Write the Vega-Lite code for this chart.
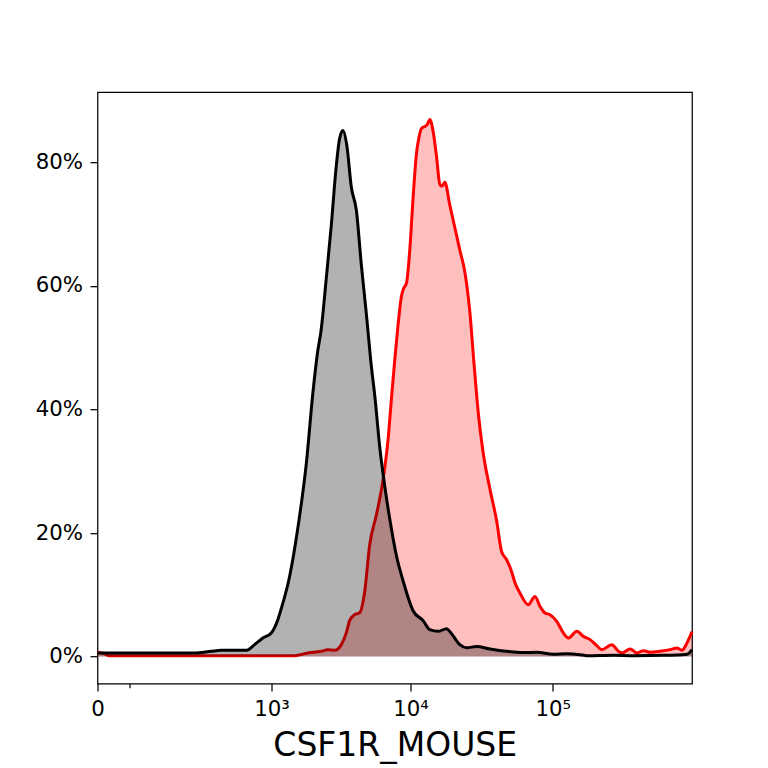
{
  "$schema": "https://vega.github.io/schema/vega-lite/v6.json",
  "autosize": "none",
  "width": 594.5,
  "height": 591.3,
  "padding": {"left": 97.5, "top": 92.2, "right": 76, "bottom": 84.5},
  "background": "white",
  "config": {
    "font": "DejaVu Sans",
    "view": {"stroke": "black", "strokeWidth": 1.25}
  },
  "data": {
    "values": [
      {"series": "control", "x": 0, "pct": 0.0060},
      {"series": "control", "x": 84, "pct": 0.0060},
      {"series": "control", "x": 242, "pct": 0.0060},
      {"series": "control", "x": 337, "pct": 0.0086},
      {"series": "control", "x": 408, "pct": 0.0102},
      {"series": "control", "x": 643, "pct": 0.0102},
      {"series": "control", "x": 745, "pct": 0.0194},
      {"series": "control", "x": 861, "pct": 0.0302},
      {"series": "control", "x": 996, "pct": 0.0383},
      {"series": "control", "x": 1115, "pct": 0.0598},
      {"series": "control", "x": 1182, "pct": 0.0776},
      {"series": "control", "x": 1361, "pct": 0.1293},
      {"series": "control", "x": 1566, "pct": 0.2085},
      {"series": "control", "x": 1803, "pct": 0.3119},
      {"series": "control", "x": 2013, "pct": 0.4267},
      {"series": "control", "x": 2178, "pct": 0.4929},
      {"series": "control", "x": 2309, "pct": 0.5285},
      {"series": "control", "x": 2517, "pct": 0.6129},
      {"series": "control", "x": 2734, "pct": 0.6986},
      {"series": "control", "x": 2970, "pct": 0.7952},
      {"series": "control", "x": 3137, "pct": 0.8388},
      {"series": "control", "x": 3312, "pct": 0.8517},
      {"series": "control", "x": 3530, "pct": 0.8275},
      {"series": "control", "x": 3803, "pct": 0.7596},
      {"series": "control", "x": 4129, "pct": 0.7224},
      {"series": "control", "x": 4483, "pct": 0.6335},
      {"series": "control", "x": 4867, "pct": 0.5543},
      {"series": "control", "x": 5223, "pct": 0.4800},
      {"series": "control", "x": 5623, "pct": 0.4154},
      {"series": "control", "x": 6052, "pct": 0.3394},
      {"series": "control", "x": 6568, "pct": 0.2764},
      {"series": "control", "x": 7127, "pct": 0.2230},
      {"series": "control", "x": 7949, "pct": 0.1632},
      {"series": "control", "x": 8854, "pct": 0.1228},
      {"series": "control", "x": 10420, "pct": 0.0743},
      {"series": "control", "x": 12263, "pct": 0.0582},
      {"series": "control", "x": 13670, "pct": 0.0436},
      {"series": "control", "x": 15648, "pct": 0.0409},
      {"series": "control", "x": 17939, "pct": 0.0453},
      {"series": "control", "x": 19456, "pct": 0.0372},
      {"series": "control", "x": 22259, "pct": 0.0194},
      {"series": "control", "x": 24819, "pct": 0.0145},
      {"series": "control", "x": 29190, "pct": 0.0162},
      {"series": "control", "x": 36224, "pct": 0.0124},
      {"series": "control", "x": 47482, "pct": 0.0086},
      {"series": "control", "x": 62131, "pct": 0.0065},
      {"series": "control", "x": 77203, "pct": 0.0069},
      {"series": "control", "x": 101011, "pct": 0.0040},
      {"series": "control", "x": 125510, "pct": 0.0048},
      {"series": "control", "x": 155654, "pct": 0.0032},
      {"series": "control", "x": 173498, "pct": 0.0016},
      {"series": "control", "x": 266880, "pct": 0.0024},
      {"series": "control", "x": 369947, "pct": 0.0016},
      {"series": "control", "x": 599603, "pct": 0.0021},
      {"series": "control", "x": 875712, "pct": 0.0040},
      {"series": "control", "x": 949568, "pct": 0.0113},
      {"series": "sample", "x": 0, "pct": 0.0073},
      {"series": "sample", "x": 7, "pct": 0.0048},
      {"series": "sample", "x": 13, "pct": 0.0016},
      {"series": "sample", "x": 1481, "pct": 0.0016},
      {"series": "sample", "x": 1852, "pct": 0.0060},
      {"series": "sample", "x": 2312, "pct": 0.0086},
      {"series": "sample", "x": 2584, "pct": 0.0113},
      {"series": "sample", "x": 2888, "pct": 0.0102},
      {"series": "sample", "x": 3226, "pct": 0.0194},
      {"series": "sample", "x": 3503, "pct": 0.0388},
      {"series": "sample", "x": 3699, "pct": 0.0582},
      {"series": "sample", "x": 4015, "pct": 0.0679},
      {"series": "sample", "x": 4360, "pct": 0.0711},
      {"series": "sample", "x": 4733, "pct": 0.1051},
      {"series": "sample", "x": 5138, "pct": 0.1810},
      {"series": "sample", "x": 5734, "pct": 0.2295},
      {"series": "sample", "x": 6387, "pct": 0.2861},
      {"series": "sample", "x": 6932, "pct": 0.3507},
      {"series": "sample", "x": 7364, "pct": 0.4234},
      {"series": "sample", "x": 7733, "pct": 0.4800},
      {"series": "sample", "x": 8160, "pct": 0.5366},
      {"series": "sample", "x": 8625, "pct": 0.5834},
      {"series": "sample", "x": 8955, "pct": 0.5964},
      {"series": "sample", "x": 9358, "pct": 0.6044},
      {"series": "sample", "x": 9875, "pct": 0.6578},
      {"series": "sample", "x": 10420, "pct": 0.7418},
      {"series": "sample", "x": 11014, "pct": 0.8145},
      {"series": "sample", "x": 11437, "pct": 0.8388},
      {"series": "sample", "x": 11949, "pct": 0.8549},
      {"series": "sample", "x": 12960, "pct": 0.8598},
      {"series": "sample", "x": 13344, "pct": 0.8646},
      {"series": "sample", "x": 13670, "pct": 0.8695},
      {"series": "sample", "x": 14426, "pct": 0.8501},
      {"series": "sample", "x": 15245, "pct": 0.8097},
      {"series": "sample", "x": 16090, "pct": 0.7644},
      {"series": "sample", "x": 16621, "pct": 0.7612},
      {"series": "sample", "x": 17453, "pct": 0.7677},
      {"series": "sample", "x": 18925, "pct": 0.7305},
      {"series": "sample", "x": 21101, "pct": 0.6820},
      {"series": "sample", "x": 22259, "pct": 0.6578},
      {"series": "sample", "x": 24147, "pct": 0.6222},
      {"series": "sample", "x": 26182, "pct": 0.5576},
      {"series": "sample", "x": 27942, "pct": 0.4768},
      {"series": "sample", "x": 30054, "pct": 0.3927},
      {"series": "sample", "x": 32486, "pct": 0.3297},
      {"series": "sample", "x": 36224, "pct": 0.2715},
      {"series": "sample", "x": 40384, "pct": 0.2198},
      {"series": "sample", "x": 43789, "pct": 0.1697},
      {"series": "sample", "x": 47482, "pct": 0.1568},
      {"series": "sample", "x": 51488, "pct": 0.1374},
      {"series": "sample", "x": 54317, "pct": 0.1196},
      {"series": "sample", "x": 58899, "pct": 0.1029},
      {"series": "sample", "x": 67373, "pct": 0.0840},
      {"series": "sample", "x": 75104, "pct": 0.0975},
      {"series": "sample", "x": 81440, "pct": 0.0813},
      {"series": "sample", "x": 88307, "pct": 0.0706},
      {"series": "sample", "x": 95757, "pct": 0.0679},
      {"series": "sample", "x": 106739, "pct": 0.0571},
      {"series": "sample", "x": 118778, "pct": 0.0383},
      {"series": "sample", "x": 128794, "pct": 0.0302},
      {"series": "sample", "x": 147558, "pct": 0.0409},
      {"series": "sample", "x": 164198, "pct": 0.0328},
      {"series": "sample", "x": 183021, "pct": 0.0275},
      {"series": "sample", "x": 203981, "pct": 0.0178},
      {"series": "sample", "x": 221190, "pct": 0.0113},
      {"series": "sample", "x": 260058, "pct": 0.0194},
      {"series": "sample", "x": 289382, "pct": 0.0086},
      {"series": "sample", "x": 305779, "pct": 0.0060},
      {"series": "sample", "x": 349760, "pct": 0.0124},
      {"series": "sample", "x": 389843, "pct": 0.0060},
      {"series": "sample", "x": 433786, "pct": 0.0097},
      {"series": "sample", "x": 483450, "pct": 0.0069},
      {"series": "sample", "x": 568422, "pct": 0.0086},
      {"series": "sample", "x": 668288, "pct": 0.0113},
      {"series": "sample", "x": 744896, "pct": 0.0141},
      {"series": "sample", "x": 807680, "pct": 0.0102},
      {"series": "sample", "x": 851968, "pct": 0.0166},
      {"series": "sample", "x": 898752, "pct": 0.0275},
      {"series": "sample", "x": 949568, "pct": 0.0404}
    ]
  },
  "encoding": {
    "x": {
      "field": "x",
      "type": "quantitative",
      "scale": {"type": "symlog", "constant": 64, "domain": [0, 950000], "nice": false, "zero": false},
      "axis": {
        "title": "CSF1R_MOUSE",
        "titleFontSize": 33,
        "titleFontWeight": "normal",
        "titleColor": "black",
        "titlePadding": 10,
        "values": [0, 43, 1000, 10000, 100000],
        "labelExpr": "datum.value == 0 ? '0' : datum.value == 1000 ? '10³' : datum.value == 10000 ? '10⁴' : datum.value == 100000 ? '10⁵' : ''",
        "labelFontSize": 21.3,
        "labelColor": "black",
        "labelPadding": 7.5,
        "labelFlush": false,
        "labelOverlap": false,
        "tickColor": "black",
        "tickWidth": 1.25,
        "tickSize": {"condition": {"test": "datum.value == 43", "value": 4.3}, "value": 7.5},
        "domain": false,
        "grid": false
      }
    },
    "y": {
      "field": "pct",
      "type": "quantitative",
      "scale": {"domain": [-0.0435, 0.9135], "nice": false, "zero": false},
      "axis": {
        "title": null,
        "values": [0, 0.2, 0.4, 0.6, 0.8],
        "format": ".0%",
        "labelFontSize": 21.3,
        "labelColor": "black",
        "labelPadding": 7.5,
        "tickColor": "black",
        "tickWidth": 1.25,
        "tickSize": 7.5,
        "domain": false,
        "grid": false
      }
    }
  },
  "layer": [
    {
      "transform": [{"filter": "datum.series == 'sample'"}],
      "mark": {"type": "area", "color": "red", "opacity": 0.25, "interpolate": "monotone"}
    },
    {
      "transform": [{"filter": "datum.series == 'sample'"}],
      "mark": {"type": "line", "color": "red", "strokeWidth": 3, "interpolate": "monotone"}
    },
    {
      "transform": [{"filter": "datum.series == 'control'"}],
      "mark": {"type": "area", "color": "black", "opacity": 0.3, "interpolate": "monotone"}
    },
    {
      "transform": [{"filter": "datum.series == 'control'"}],
      "mark": {"type": "line", "color": "black", "strokeWidth": 3, "interpolate": "monotone"}
    }
  ]
}
